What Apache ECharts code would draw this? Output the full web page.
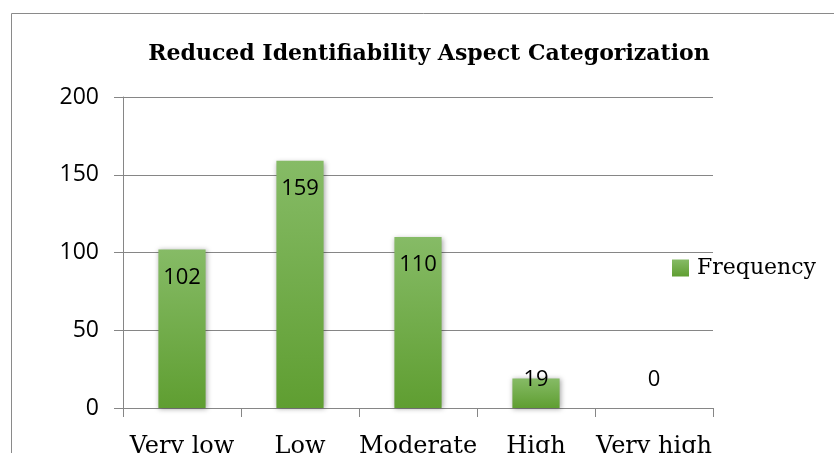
<!DOCTYPE html>
<html>
<head>
<meta charset="utf-8">
<script src="https://cdn.jsdelivr.net/npm/echarts@6/dist/echarts.min.js"></script>
<style>
html,body{margin:0;padding:0;background:#fff;}
#chart{width:834px;height:453px;}
</style>
</head>
<body>
<div id="chart"></div>
<script>
var titleText = 'Reduced Identifiability Aspect Categorization';
var categories = ['Very low', 'Low', 'Moderate', 'High', 'Very high'];
var frequency = [102, 159, 110, 19, 0];
var seriesName = 'Frequency';
var yTicks = [0, 50, 100, 150, 200];

var chart = echarts.init(document.getElementById('chart'), null, {renderer: 'canvas'});
var barColor = new echarts.graphic.LinearGradient(0, 0, 0, 1, [
  {offset: 0, color: '#86bb66'},
  {offset: 1, color: '#5f9e31'}
]);
var labelFont = {fontFamily: 'Open Sans', fontSize: 22, color: '#000'};
var data = frequency.map(function (v) {
  var small = v < 40;
  return {
    value: v,
    label: {
      show: true,
      position: small ? 'insideBottom' : 'insideTop',
      distance: 17,
      fontFamily: labelFont.fontFamily,
      fontSize: labelFont.fontSize,
      color: labelFont.color
    }
  };
});

chart.setOption({
  animation: false,
  backgroundColor: '#fff',
  title: {
    text: titleText,
    left: 424,
    textAlign: 'center',
    top: 38,
    textStyle: {fontFamily: 'DejaVu Serif', fontWeight: 'bold', fontSize: 22, color: '#000'}
  },
  legend: {
    data: [{name: seriesName, icon: 'rect'}],
    left: 667,
    top: 252,
    itemWidth: 17,
    itemHeight: 17,
    itemGap: 6,
    textStyle: {fontFamily: 'DejaVu Serif', fontSize: 22, color: '#000', padding: [0, 0, 0, 3]}
  },
  grid: {left: 123, right: 121, top: 97, bottom: 45, containLabel: false, outerBoundsMode: 'none'},
  xAxis: {
    type: 'category',
    data: categories,
    axisLine: {lineStyle: {color: '#868686', width: 1}},
    axisTick: {show: true, length: 9, lineStyle: {color: '#868686'}},
    axisLabel: {interval: 0, fontFamily: 'DejaVu Serif', fontSize: 24, color: '#000', margin: 27}
  },
  yAxis: {
    type: 'value',
    min: yTicks[0],
    max: yTicks[yTicks.length - 1],
    interval: yTicks[1] - yTicks[0],
    axisLine: {show: true, lineStyle: {color: '#868686', width: 1}},
    axisTick: {show: true, length: 9, lineStyle: {color: '#868686'}},
    axisLabel: {fontFamily: 'Open Sans', fontSize: 23, color: '#000', margin: 24},
    splitLine: {lineStyle: {color: '#868686', width: 1}}
  },
  series: [{
    name: seriesName,
    type: 'bar',
    data: data,
    barWidth: '40%',
    itemStyle: {
      color: barColor,
      shadowColor: 'rgba(0,0,0,0.35)',
      shadowBlur: 5,
      shadowOffsetX: 1,
      shadowOffsetY: 1
    }
  }],
  graphic: [{
    type: 'rect',
    shape: {x: 11.5, y: 13.5, width: 900, height: 600},
    style: {fill: 'none', stroke: '#8a8a8a', lineWidth: 1},
    silent: true,
    z: -1
  }]
});
</script>
</body>
</html>
